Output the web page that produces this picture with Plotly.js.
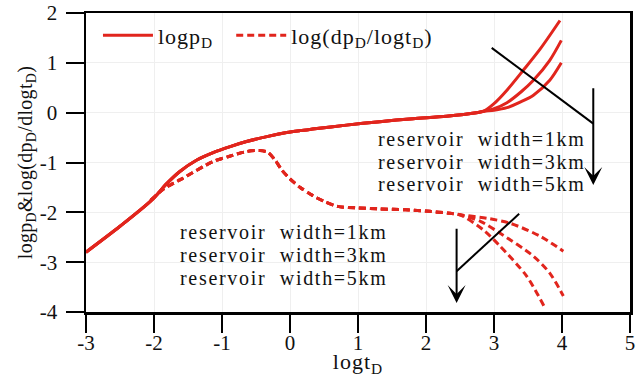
<!DOCTYPE html>
<html>
<head>
<meta charset="utf-8">
<script src="https://cdn.plot.ly/plotly-3.0.1.min.js"></script>
<style>
  html, body { margin: 0; padding: 0; background: #fff; }
  #chart { width: 641px; height: 377px; }
  text.annotation-text { letter-spacing: 1.7px; }
  .xtitle, .legendtext { letter-spacing: 1px; }
  .ytitle { letter-spacing: 0.3px; }
</style>
</head>
<body>
<div id="chart"></div>
<script>
// ---- data ----
// logpD, common early part
const pBaseX = [-3.0, -2.5, -2.03, -1.81, -1.62, -1.37, -1.13, -0.88, -0.64, -0.34, -0.05, 0.15, 0.33, 0.83, 1.32, 1.81, 2.30, 2.74, 2.85];
const pBaseY = [-2.80, -2.28, -1.75, -1.42, -1.18, -0.95, -0.80, -0.68, -0.58, -0.48, -0.40, -0.36, -0.33, -0.25, -0.18, -0.12, -0.07, 0.00, 0.03];
// logpD, late branches by reservoir width
const pW1X = [3.0, 3.19, 3.43, 3.68, 3.97];
const pW1Y = [0.18, 0.45, 0.85, 1.28, 1.85];
const pW3X = [3.0, 3.19, 3.40, 3.58, 3.82, 3.99];
const pW3Y = [0.08, 0.20, 0.42, 0.65, 1.05, 1.45];
const pW5X = [3.0, 3.19, 3.40, 3.58, 3.82, 3.99];
const pW5Y = [0.05, 0.10, 0.22, 0.35, 0.65, 1.00];

// log(dpD/logtD), common part
const dBaseX = [-2.05, -1.85, -1.62, -1.13, -0.90, -0.64, -0.44, -0.32, -0.22, -0.12, 0.0, 0.15, 0.33, 0.50, 0.70, 1.00, 1.32, 1.70, 2.05, 2.35, 2.50];
const dBaseY = [-1.76, -1.52, -1.35, -0.98, -0.88, -0.78, -0.76, -0.80, -0.95, -1.15, -1.33, -1.50, -1.66, -1.78, -1.88, -1.91, -1.93, -1.95, -1.98, -2.02, -2.05];
// derivative late branches by reservoir width
const dW1X = [2.90, 3.24, 3.68, 4.02];
const dW1Y = [-2.12, -2.22, -2.48, -2.78];
const dW3X = [2.80, 3.09, 3.58, 3.82, 4.02];
const dW3Y = [-2.18, -2.42, -2.88, -3.22, -3.68];
const dW5X = [2.84, 3.09, 3.48, 3.75];
const dW5Y = [-2.35, -2.68, -3.28, -3.92];

const xTickVals = [-3, -2, -1, 0, 1, 2, 3, 4, 5];
const xTickText = ['-3', '-2', '-1', '0', '1', '2', '3', '4', '5'];
const yTickVals = [-4, -3, -2, -1, 0, 1, 2];
const yTickText = ['-4', '-3', '-2', '-1', '0', '1', '2'];

const widthLabels = ['reservoir  width=1km', 'reservoir  width=3km', 'reservoir  width=5km'];

// ---- styles ----
const RED = '#e1251d';
const FONT = '"Liberation Serif", serif';
const NB = '\u00a0';

function mk(x, y, name, dashed, showleg, legName) {
  return {
    x: x, y: y, type: 'scatter', mode: 'lines', name: legName || name,
    showlegend: !!showleg, hoverinfo: 'skip',
    line: { color: RED, width: 3, dash: dashed ? '7px,4px' : 'solid', shape: 'spline', smoothing: 0.8 }
  };
}

const traces = [
  mk(pBaseX.concat(pW1X), pBaseY.concat(pW1Y), '1km', false, true, 'logp<sub>D</sub>' + NB + NB),
  mk(pBaseX.concat(pW3X), pBaseY.concat(pW3Y), '3km', false, false),
  mk(pBaseX.concat(pW5X), pBaseY.concat(pW5Y), '5km', false, false),
  mk(dBaseX.concat(dW1X), dBaseY.concat(dW1Y), '1km', true, true, 'log(dp<sub>D</sub>/logt<sub>D</sub>)'),
  mk(dBaseX.concat(dW3X), dBaseY.concat(dW3Y), '3km', true, false),
  mk(dBaseX.concat(dW5X), dBaseY.concat(dW5Y), '5km', true, false)
];

const upperY = [-0.52, -0.98, -1.43];
const lowerY = [-2.39, -2.85, -3.31];
const annotations = [];
widthLabels.forEach((t, i) => {
  annotations.push({ x: 1.265, y: upperY[i], xref: 'x', yref: 'y', text: t, showarrow: false,
    xanchor: 'left', yanchor: 'middle', font: { family: FONT, size: 20, color: '#111' } });
  annotations.push({ x: -1.64, y: lowerY[i], xref: 'x', yref: 'y', text: t, showarrow: false,
    xanchor: 'left', yanchor: 'middle', font: { family: FONT, size: 20, color: '#111' } });
});
// black arrows
annotations.push({ x: 4.46, y: -1.45, ax: 4.46, ay: 0.52, xref: 'x', yref: 'y', axref: 'x', ayref: 'y',
  text: '', showarrow: true, arrowhead: 3, arrowsize: 1.5, arrowwidth: 2, arrowcolor: '#000' });
annotations.push({ x: 2.45, y: -3.82, ax: 2.45, ay: -2.30, xref: 'x', yref: 'y', axref: 'x', ayref: 'y',
  text: '', showarrow: true, arrowhead: 3, arrowsize: 1.5, arrowwidth: 2, arrowcolor: '#000' });

const shapes = [
  { type: 'line', xref: 'x', yref: 'y', x0: 2.966, y0: 1.30, x1: 4.46, y1: -0.22, line: { color: '#000', width: 2 } },
  { type: 'line', xref: 'x', yref: 'y', x0: 3.37, y0: -2.03, x1: 2.45, y1: -3.18, line: { color: '#000', width: 2 } }
];

const axisCommon = {
  showline: true, linecolor: '#000', linewidth: 2.5, mirror: true,
  ticks: 'outside', ticklen: 18, tickwidth: 2, tickcolor: '#000',
  showgrid: true, gridcolor: '#efefef', gridwidth: 1, zeroline: false,
  tickfont: { family: FONT, size: 21, color: '#111' }, tickmode: 'array'
};

const layout = {
  width: 641, height: 377,
  margin: { l: 86, r: 11, t: 13, b: 65, pad: 0 },
  paper_bgcolor: '#fff', plot_bgcolor: '#fff',
  showlegend: true,
  legend: { x: 0.022, y: 0.995, xanchor: 'left', yanchor: 'top', orientation: 'h',
    bgcolor: 'rgba(0,0,0,0)', font: { family: FONT, size: 22, color: '#111' },
    itemwidth: 50, tracegroupgap: 0 },
  xaxis: Object.assign({}, axisCommon, {
    range: [-3, 5], tickvals: xTickVals, ticktext: xTickText, ticklabelstandoff: -8,
    title: { text: 'logt<sub>D</sub>', font: { family: FONT, size: 22, color: '#111' }, standoff: 4 },
    automargin: false
  }),
  yaxis: Object.assign({}, axisCommon, {
    range: [-4, 2], tickvals: yTickVals, ticktext: yTickText, ticklabelstandoff: 4,
    title: { text: NB + NB + NB + NB + NB + 'logp<sub>D</sub>&amp;log(dp<sub>D</sub>/dlogt<sub>D</sub>)', font: { family: FONT, size: 20, color: '#111' }, standoff: 2 },
    automargin: false
  }),
  annotations: annotations,
  shapes: shapes
};

Plotly.newPlot('chart', traces, layout, { displayModeBar: false, staticPlot: true });
</script>
</body>
</html>
